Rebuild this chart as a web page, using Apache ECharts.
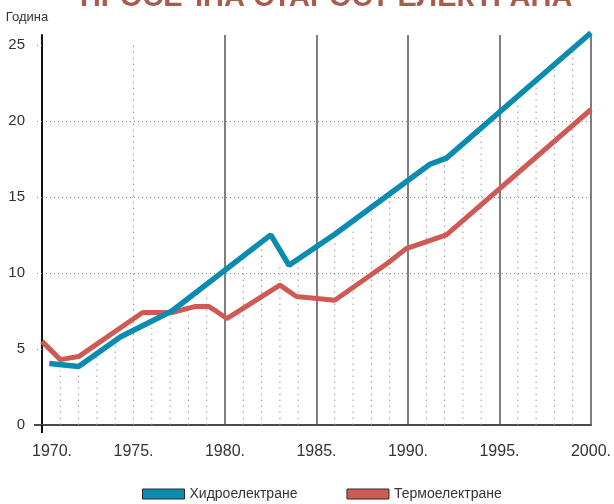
<!DOCTYPE html>
<html>
<head>
<meta charset="utf-8">
<script src="https://cdn.jsdelivr.net/npm/echarts@6/dist/echarts.min.js"></script>
<style>
  html, body { margin: 0; padding: 0; background: #fff; }
  #chart { width: 614px; height: 504px; }
</style>
</head>
<body>
<div id="chart"></div>
<script>
// Просечна старост електрана (године)
const titleText = "ПРОСЕЧНА СТАРОСТ ЕЛЕКТРАНА"
const yName = "Година"
const seriesNames = ["Хидроелектране", "Термоелектране"]

// [година, старост]
const hydroData = [
  [1970.4, 4.05], [1972.0, 3.85], [1974.3, 5.8], [1977.1, 7.5],
  [1982.5, 12.5], [1983.5, 10.5], [1986.0, 12.55], [1991.2, 17.15],
  [1992.1, 17.55], [2000.0, 25.8]
]
const thermoData = [
  [1970.0, 5.5], [1971.0, 4.3], [1972.0, 4.5], [1975.5, 7.4],
  [1977.1, 7.4], [1978.4, 7.8], [1979.1, 7.8], [1979.5, 7.5],
  [1980.1, 7.0], [1983.0, 9.2], [1983.9, 8.45], [1986.0, 8.2],
  [1988.9, 10.65], [1989.9, 11.6], [1990.5, 11.85], [1992.1, 12.5],
  [2000.0, 20.75]
]

// tačkaste vertikale ispod krivih
const dropYears = [1971, 1972, 1973, 1974, 1975, 1976, 1977, 1978, 1979,
  1981, 1982, 1983, 1984, 1986, 1987, 1988, 1989,
  1991, 1992, 1993, 1994, 1996, 1997, 1998, 1999]
const dropTops = [3.6, 3.4, 4.5, 5.4, 25, 6.7, 7.2, 7.4, 8.7,
  10.7, 11.7, 10.5, 10.7, 12.0, 13.0, 13.9, 15.0,
  16.3, 17.1, 17.8, 19.0, 21.1, 22.2, 23.5, 24.7]

const decadeLines = [1980, 1985, 1990, 1995, 2000]
const gridTicks = [5, 10, 15, 20, 25]

const font = "'Liberation Sans', Arial, sans-serif"
const blue = "#0a8cb0"
const red = "#cf5a55"

const chart = echarts.init(document.getElementById("chart"))

const option = {
  animation: false,
  backgroundColor: "#fff",
  textStyle: { fontFamily: font },
  graphic: [
    {
      type: "text",
      left: 80,
      top: -17,
      style: {
        text: titleText,
        fill: "#a65d4e",
        font: "bold 29px 'Liberation Sans', sans-serif"
      }
    }
  ],
  legend: {
    left: 137,
    top: 482,
    icon: "rect",
    itemWidth: 42,
    itemHeight: 10,
    itemGap: 49,
    itemStyle: { borderColor: "#2a2a2a", borderWidth: 1 },
    textStyle: { fontFamily: font, fontSize: 14, color: "#333" },
    data: seriesNames
  },
  grid: { left: 42, right: 18, top: 35, bottom: 79 },
  xAxis: {
    type: "value",
    min: 1970,
    max: 2000,
    interval: 5,
    axisLine: { lineStyle: { color: "#4a4a4a", width: 2 } },
    axisTick: { show: true, customValues: [1970], length: 8, lineStyle: { color: "#111", width: 2 } },
    splitLine: { show: false },
    axisLabel: {
      fontFamily: font,
      fontSize: 16,
      color: "#333",
      margin: 19,
      formatter: (v) => v === 1970 ? "{first|1970.}" : v + ".",
      rich: { first: { fontFamily: font, fontSize: 16, color: "#333", padding: [0, 0, 0, 20] } }
    }
  },
  yAxis: [
    {
      type: "value",
      min: 0,
      max: 25.65,
      interval: 5,
      name: yName,
      nameLocation: "end",
      nameGap: 11,
      nameTextStyle: { fontFamily: font, fontSize: 13, color: "#333", align: "center", padding: [0, 30, 0, 0] },
      axisLine: { show: true, lineStyle: { color: "#111", width: 2 } },
      axisTick: { show: true, customValues: [0], length: 8, lineStyle: { color: "#4a4a4a", width: 2 } },
      axisLabel: {
        fontFamily: font,
        fontSize: 15,
        color: "#333",
        margin: 17,
        formatter: (v) => (v % 5 === 0 ? String(v) : "")
      },
      splitLine: { show: false }
    },
    {
      type: "value",
      position: "left",
      min: 0,
      max: 25.65,
      interval: 5,
      axisLine: { show: false },
      axisLabel: { show: false },
      axisTick: { show: true, customValues: gridTicks, length: 8, lineStyle: { color: "#888", type: [1, 3], width: 1 } },
      splitLine: {
        show: true,
        showMinLine: false,
        showMaxLine: false,
        lineStyle: { color: "#888", type: [1, 3], width: 1 }
      }
    }
  ],
  series: [
    {
      type: "custom",
      silent: true,
      z: 1,
      data: dropYears.map((y, i) => [y, dropTops[i]]),
      renderItem: (params, api) => {
        const p0 = api.coord([api.value(0), 0])
        const p1 = api.coord([api.value(0), api.value(1)])
        return {
          type: "line",
          shape: { x1: p0[0], y1: p0[1], x2: p1[0], y2: p1[1] },
          style: { stroke: "#999", lineWidth: 1, lineDash: [1.5, 4.5] }
        }
      }
    },
    {
      name: seriesNames[0],
      type: "line",
      data: hydroData,
      z: 4,
      clip: false,
      showSymbol: false,
      symbol: "none",
      color: blue,
      lineStyle: { color: blue, width: 5.5 },
      markLine: {
        silent: true,
        symbol: "none",
        z: 2,
        label: { show: false },
        lineStyle: { color: "#555", type: "solid", width: 1.5 },
        data: decadeLines.map((x) => ({ xAxis: x }))
      }
    },
    {
      name: seriesNames[1],
      type: "line",
      data: thermoData,
      z: 3,
      clip: false,
      showSymbol: false,
      symbol: "none",
      color: red,
      lineStyle: { color: red, width: 5 }
    }
  ]
}

chart.setOption(option)
</script>
</body>
</html>
